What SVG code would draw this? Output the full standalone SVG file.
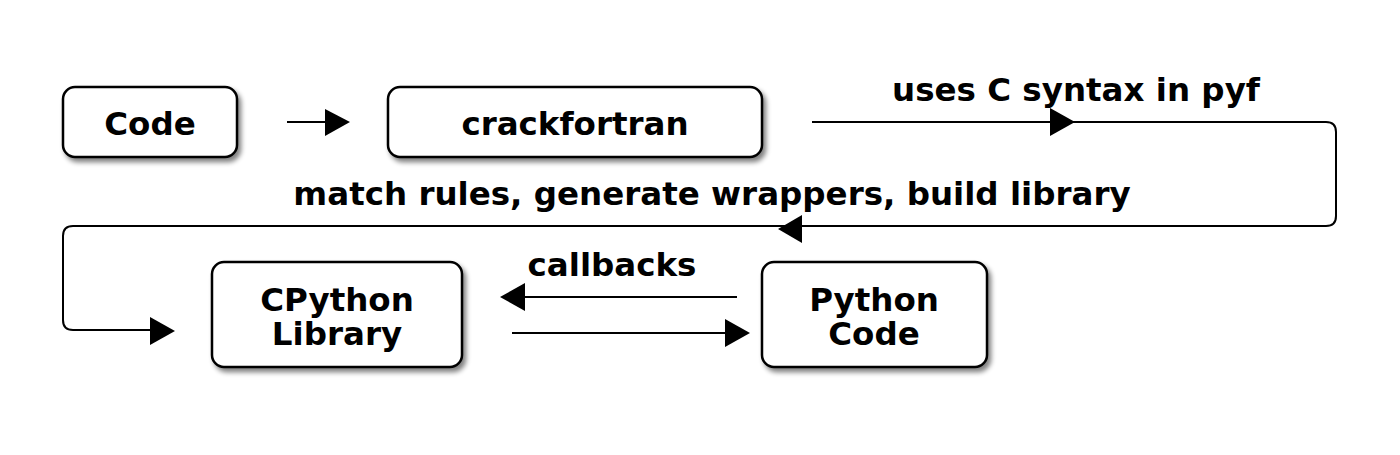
<svg xmlns="http://www.w3.org/2000/svg" width="1400" height="455" viewBox="0 0 1400 455">
<style>
.box{fill:#fff;stroke:#000;stroke-width:2.5}
.t{font-family:"DejaVu Sans",sans-serif;font-weight:bold;font-size:32.5px;fill:#000;text-anchor:middle}
.l{font-family:"DejaVu Sans",sans-serif;font-weight:bold;font-size:32.5px;fill:#000;text-anchor:middle}
.c{fill:none;stroke:#000;stroke-width:2}
.h{fill:#000}
</style>
<defs>
<filter id="sh" x="-10%" y="-10%" width="130%" height="130%">
<feGaussianBlur in="SourceAlpha" stdDeviation="2.5"/>
<feOffset dx="3" dy="4" result="b"/>
<feComponentTransfer><feFuncA type="linear" slope="0.5"/></feComponentTransfer>
<feMerge><feMergeNode/><feMergeNode in="SourceGraphic"/></feMerge>
</filter>
</defs>
<rect width="1400" height="455" fill="#fff"/>
<g id="code">
<rect class="box" x="63" y="87" width="174" height="70" rx="12" filter="url(#sh)"/>
<text class="t" x="150" y="135">Code</text>
</g>
<g id="crackfortran">
<rect class="box" x="388" y="87" width="374" height="70" rx="12" filter="url(#sh)"/>
<text class="t" x="575" y="135">crackfortran</text>
</g>
<g id="cpython">
<rect class="box" x="212" y="262" width="250" height="105" rx="12" filter="url(#sh)"/>
<text class="t" x="337" y="311">CPython</text>
<text class="t" x="337" y="345">Library</text>
</g>
<g id="python">
<rect class="box" x="762" y="262" width="225" height="105" rx="12" filter="url(#sh)"/>
<text class="t" x="874" y="311">Python</text>
<text class="t" x="874" y="345">Code</text>
</g>
<g id="connectors">
<line class="c" x1="287" y1="122" x2="330" y2="122"/>
<polygon class="h" points="350,122 325,109 325,136"/>
<path class="c" d="M812,122 H1326 Q1336,122 1336,132 V216 Q1336,226 1326,226 H73 Q63,226 63,236 V320 Q63,330 73,330 H160"/>
<polygon class="h" points="1075,122 1050,108 1050,136"/>
<polygon class="h" points="778,229 802,215 802,243"/>
<polygon class="h" points="175,331 150,317 150,345"/>
<line class="c" x1="737" y1="297" x2="515" y2="297"/>
<polygon class="h" points="500,297 525,283 525,311"/>
<line class="c" x1="512" y1="333" x2="735" y2="333"/>
<polygon class="h" points="750,333 725,319 725,347"/>
<text class="l" x="1076" y="101">uses C syntax in pyf</text>
<text class="l" x="712" y="205">match rules, generate wrappers, build library</text>
<text class="l" x="612" y="276">callbacks</text>
</g>
</svg>
